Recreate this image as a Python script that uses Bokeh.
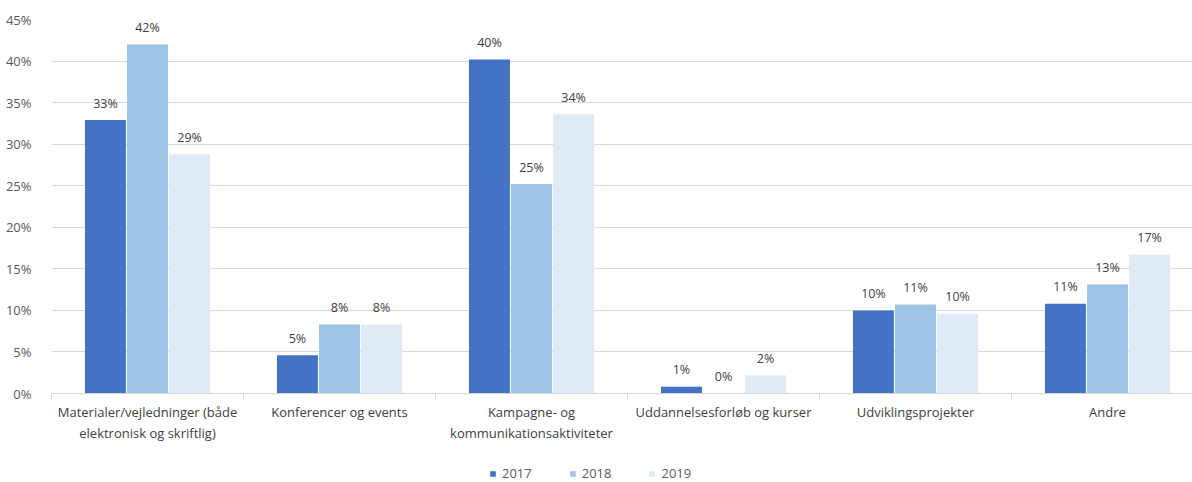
from bokeh.plotting import figure
from bokeh.layouts import column
from bokeh.models import (ColumnDataSource, Range1d, FixedTicker, PrintfTickFormatter,
                          Legend, LegendItem)
from bokeh.embed import file_html
from bokeh.resources import INLINE
from bokeh.core.properties import value

categories = ["Materialer/vejledninger (både\nelektronisk og skriftlig)",
              "Konferencer og events",
              "Kampagne- og\nkommunikationsaktiviteter",
              "Uddannelsesforløb og kurser",
              "Udviklingsprojekter",
              "Andre"]
years = ["2017", "2018", "2019"]
v2017 = [32.9, 4.6, 40.2, 0.8, 10.0, 10.8]
v2018 = [42.0, 8.3, 25.2, 0.0, 10.7, 13.1]
v2019 = [28.8, 8.3, 33.6, 2.2, 9.6, 16.7]
y_ticks = [0, 5, 10, 15, 20, 25, 30, 35, 40, 45]

series = [v2017, v2018, v2019]
colors = ["#4472C4", "#9DC3E6", "#DEEBF7"]
offsets = [-0.219, 0.0, 0.219]
FONT = "Open Sans"

p = figure(width=1192, height=458, output_backend="svg", toolbar_location=None,
           x_range=Range1d(0, 1141 / 192), y_range=Range1d(0, 45),
           min_border_left=51, min_border_right=0, min_border_top=19,
           min_border_bottom=65, outline_line_color=None)

for vals, col, off in zip(series, colors, offsets):
    src = ColumnDataSource(dict(
        x=[i + 0.5 + off for i in range(len(categories))],
        top=vals,
        lab=[f"{round(v)}%" for v in vals]))
    p.vbar(x="x", top="top", width=0.2135, source=src, fill_color=col,
           line_color=None)
    p.text(x="x", y="top", text="lab", source=src, text_align="center",
           text_baseline="middle", y_offset=-17, text_font=value(FONT),
           text_font_size="12.5px", text_color="#404040")

# axes
p.xaxis.ticker = FixedTicker(ticks=[i + 0.5 for i in range(len(categories))],
                             minor_ticks=list(range(len(categories) + 1)))
p.xaxis.major_label_overrides = {i + 0.5: c for i, c in enumerate(categories)}
p.xaxis.major_tick_line_color = None
p.xaxis.major_tick_out = 0
p.xaxis.minor_tick_in = 0
p.xaxis.minor_tick_out = 6
p.xaxis.minor_tick_line_color = "#d9d9d9"
p.xaxis.axis_line_color = "#d9d9d9"
p.xaxis.major_label_standoff = 3
p.xaxis.major_label_text_font = FONT
p.xaxis.major_label_text_font_size = "13px"
p.xaxis.major_label_text_color = "#404040"

p.yaxis.ticker = FixedTicker(ticks=y_ticks, minor_ticks=[])
p.yaxis.formatter = PrintfTickFormatter(format="%d%%")
p.yaxis.axis_line_color = None
p.yaxis.major_tick_line_color = None
p.yaxis.minor_tick_line_color = None
p.yaxis.major_label_standoff = 14
p.yaxis.major_label_text_font = FONT
p.yaxis.major_label_text_font_size = "13px"
p.yaxis.major_label_text_color = "#595959"

p.xgrid.grid_line_color = None
p.ygrid.grid_line_color = "#d9d9d9"
p.ygrid.ticker = FixedTicker(ticks=y_ticks)

# legend strip below the chart (its frame is aligned with the chart's frame)
lg = figure(width=1192, height=24, output_backend="svg", toolbar_location=None,
            x_range=Range1d(0, 1), y_range=Range1d(0, 1),
            x_axis_location=None, y_axis_location=None, outline_line_color=None,
            min_border_left=51, min_border_right=0, min_border_top=0,
            min_border_bottom=0)
lg.grid.visible = False
items = []
for yr, col in zip(years, colors):
    # a single point outside the visible range: only its legend swatch shows
    r = lg.vbar(x=[5], top=[1], width=0.1, fill_color=col, line_color=None)
    items.append(LegendItem(label=yr, renderers=[r]))
legend = Legend(items=items, orientation="horizontal", location=(438, 0),
                glyph_width=7, glyph_height=7, label_height=18, label_standoff=6,
                spacing=37, padding=0, margin=0, border_line_color=None,
                background_fill_alpha=0, label_text_font=FONT,
                label_text_font_size="13px", label_text_color="#595959")
lg.add_layout(legend, "center")

open("out.html", "w").write(file_html(column(p, lg, spacing=0), INLINE))
